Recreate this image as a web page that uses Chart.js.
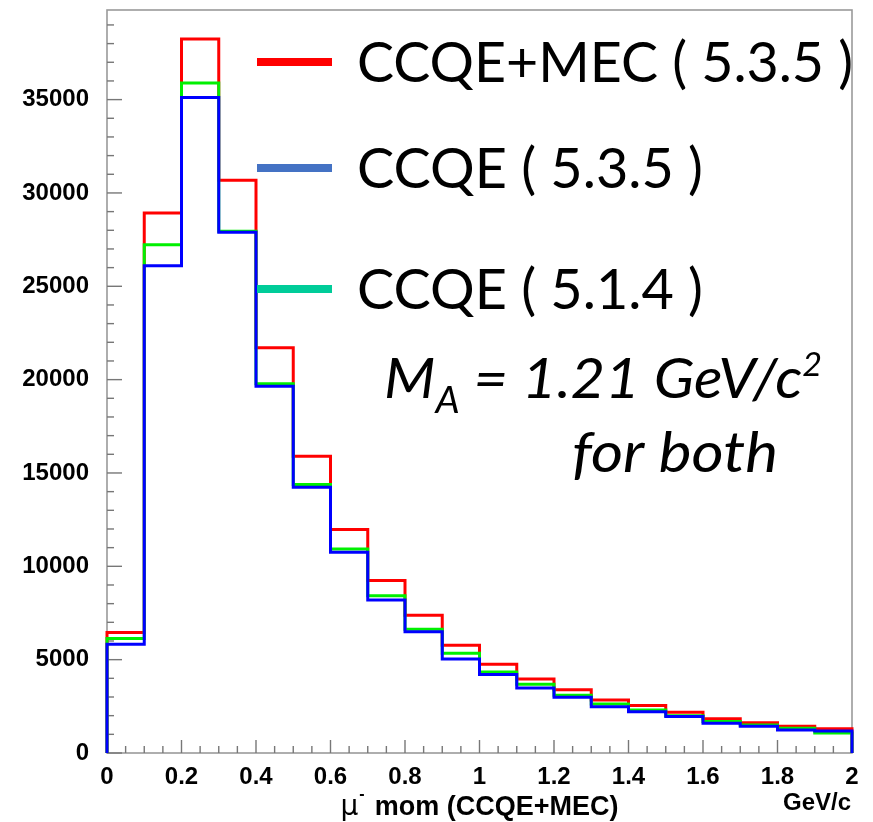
<!DOCTYPE html>
<html>
<head>
<meta charset="utf-8">
<script src="https://cdn.jsdelivr.net/npm/chart.js@4.4.1/dist/chart.umd.min.js"></script>
<style>
  html, body { margin: 0; padding: 0; background: #fff; }
  canvas { display: block; }
</style>
</head>
<body>
<canvas id="momChart" width="873" height="822"></canvas>
<script>
// muon momentum bins, GeV/c (low edges, 0.1 wide)
const binLowEdges = [0, 0.1, 0.2, 0.3, 0.4, 0.5, 0.6, 0.7, 0.8, 0.9, 1.0, 1.1, 1.2, 1.3, 1.4, 1.5, 1.6, 1.7, 1.8, 1.9];
const binWidth = 0.1;

// event counts per bin
const ccqeMec535 = [6460, 28920, 38250, 30680, 21710, 15900, 11970, 9240, 7380, 5770, 4750, 3970, 3390, 2840, 2540, 2180, 1840, 1620, 1430, 1300];
const ccqe514    = [6130, 27230, 35890, 27950, 19780, 14380, 10930, 8420, 6630, 5340, 4340, 3680, 3090, 2630, 2300, 2000, 1690, 1500, 1320, 1070];
const ccqe535    = [5820, 26100, 35110, 27900, 19650, 14240, 10750, 8200, 6490, 5040, 4200, 3480, 2980, 2480, 2210, 1950, 1590, 1430, 1230, 1180];

const xTickLabels = ['0', '0.2', '0.4', '0.6', '0.8', '1', '1.2', '1.4', '1.6', '1.8', '2'];
const yTickLabels = ['0', '5000', '10000', '15000', '20000', '25000', '30000', '35000'];

const legendLabels = ['CCQE+MEC ( 5.3.5 )', 'CCQE ( 5.3.5 )', 'CCQE ( 5.1.4 )'];
const legendColors = ['#ff0000', '#4472c4', '#00cc99'];

const AXIS_FAMILY = '"Liberation Sans", Arial, sans-serif';
const BIG_FONT = '"Lato", "Open Sans", sans-serif';

// outline of a histogram: starts and ends on the zero line
function histPoints(values) {
    const last = binLowEdges.length - 1;
    const xEnd = binLowEdges[last] + binWidth;
    const pts = [{ x: binLowEdges[0], y: 0 }];
    values.forEach((v, i) => pts.push({ x: binLowEdges[i], y: v }));
    pts.push({ x: xEnd, y: values[last] });
    pts.push({ x: xEnd, y: 0 });
    return pts;
}

function histDataset(label, values, color, order) {
    return {
        label: label,
        data: histPoints(values),
        borderColor: color,
        borderWidth: 3,
        stepped: 'before',
        pointRadius: 0,
        fill: false,
        clip: 6,
        order: order
    };
}

// draw text squeezed/stretched to a given width
function fitText(ctx, parts, x, y, width) {
    let total = 0;
    parts.forEach(p => { ctx.font = p.font; total += ctx.measureText(p.text).width; });
    ctx.save();
    ctx.translate(x, y);
    ctx.scale(width / total, 1);
    let cx = 0;
    parts.forEach(p => {
        ctx.font = p.font;
        ctx.fillText(p.text, cx, p.dy || 0);
        cx += ctx.measureText(p.text).width;
    });
    ctx.restore();
}

// frame with inward major/minor ticks, like a ROOT canvas
const framePlugin = {
    id: 'frame',
    beforeDatasetsDraw(chart) {
        const { ctx, chartArea: a, scales } = chart;
        ctx.save();
        ctx.strokeStyle = '#9a9a9a';
        ctx.lineWidth = 1.6;
        ctx.strokeRect(a.left, a.top, a.right - a.left, a.bottom - a.top);

        ctx.strokeStyle = '#777';
        ctx.lineWidth = 1.4;
        // x ticks: major every 0.2, minor every 0.05
        for (let i = 0; i <= 40; i++) {
            const px = scales.x.getPixelForValue(i * 0.05);
            const len = i % 4 === 0 ? 13 : 7;
            ctx.beginPath();
            ctx.moveTo(px, a.bottom);
            ctx.lineTo(px, a.bottom - len);
            ctx.stroke();
        }
        // y ticks: major every 5000, minor every 1000
        for (let v = 0; v <= scales.y.max; v += 1000) {
            const py = scales.y.getPixelForValue(v);
            const len = v % 5000 === 0 ? 15 : 7;
            ctx.beginPath();
            ctx.moveTo(a.left, py);
            ctx.lineTo(a.left + len, py);
            ctx.stroke();
        }
        ctx.restore();
    },
    afterDraw(chart) {
        const { ctx, chartArea: a } = chart;
        ctx.save();
        ctx.fillStyle = '#000';
        ctx.textBaseline = 'alphabetic';

        // axis title
        const mid = (a.left + a.right) / 2;
        const restTxt = ' mom (CCQE+MEC)';
        ctx.font = '28px "DejaVu Sans", sans-serif';
        const muW = ctx.measureText('\u03bc').width;
        ctx.font = 'bold 27px ' + AXIS_FAMILY;
        const restW = ctx.measureText(restTxt).width;
        const supW = 9;
        const x0 = mid - (muW + supW + restW) / 2;
        ctx.font = '28px "DejaVu Sans", sans-serif';
        ctx.fillText('\u03bc', x0, 815);
        ctx.font = 'bold 16px ' + AXIS_FAMILY;
        ctx.fillText('-', x0 + muW + 1, 799);
        ctx.font = 'bold 27px ' + AXIS_FAMILY;
        ctx.fillText(restTxt, x0 + muW + supW, 815);

        ctx.font = 'bold 24px ' + AXIS_FAMILY;
        ctx.textAlign = 'right';
        ctx.fillText('GeV/c', 851, 810);
        ctx.textAlign = 'left';

        // legend
        const rows = [62, 168, 289];
        const widths = [496, 346, 346];
        rows.forEach((yc, i) => {
            ctx.fillStyle = legendColors[i];
            ctx.fillRect(257, yc - 4, 75, 8);
            ctx.fillStyle = '#000';
            fitText(ctx, [{ text: legendLabels[i], font: '56px ' + BIG_FONT }], 357, yc + 20, widths[i]);
        });

        // axial mass note
        fitText(ctx, [
            { text: 'M', font: 'italic 56px ' + BIG_FONT },
            { text: 'A', font: 'italic 36px ' + BIG_FONT, dy: 15 },
            { text: ' = 1.21 GeV/c', font: 'italic 56px ' + BIG_FONT },
            { text: '2', font: 'italic 32px ' + BIG_FONT, dy: -22 }
        ], 384, 398, 438);
        fitText(ctx, [{ text: 'for both', font: 'italic 56px ' + BIG_FONT }], 572, 472, 206);

        ctx.restore();
    }
};

const ctx = document.getElementById('momChart').getContext('2d');
const momChart = new Chart(ctx, {
    type: 'line',
    data: {
        datasets: [
            histDataset('CCQE+MEC ( 5.3.5 )', ccqeMec535, '#ff0000', 3),
            histDataset('CCQE ( 5.1.4 )', ccqe514, '#00f000', 2),
            histDataset('CCQE ( 5.3.5 )', ccqe535, '#0000ff', 1)
        ]
    },
    options: {
        responsive: false,
        animation: false,
        devicePixelRatio: 1,
        layout: { padding: { left: 0, top: 10, right: 21, bottom: 0 } },
        plugins: {
            legend: { display: false },
            tooltip: { enabled: false }
        },
        scales: {
            x: {
                type: 'linear',
                min: 0,
                max: 2,
                grid: { display: false, drawTicks: false },
                border: { display: false },
                afterBuildTicks: (scale) => {
                    scale.ticks = xTickLabels.map(t => ({ value: parseFloat(t) }));
                },
                afterFit: (scale) => {
                    scale.height = 69;
                    scale.paddingLeft = 0;
                    scale.paddingRight = 0;
                },
                ticks: {
                    autoSkip: false,
                    maxRotation: 0,
                    padding: 10,
                    color: '#000',
                    font: { family: AXIS_FAMILY, size: 24, weight: 'bold' },
                    callback: (value, index) => xTickLabels[index]
                }
            },
            y: {
                type: 'linear',
                min: 0,
                max: 39800,
                grid: { display: false, drawTicks: false },
                border: { display: false },
                afterBuildTicks: (scale) => {
                    scale.ticks = yTickLabels.map(t => ({ value: parseFloat(t) }));
                },
                afterFit: (scale) => {
                    scale.width = 107;
                    scale.paddingTop = 0;
                    scale.paddingBottom = 0;
                },
                ticks: {
                    autoSkip: false,
                    padding: 18,
                    color: '#000',
                    font: { family: AXIS_FAMILY, size: 24, weight: 'bold' },
                    callback: (value, index) => yTickLabels[index]
                }
            }
        }
    },
    plugins: [framePlugin]
});
</script>
</body>
</html>
